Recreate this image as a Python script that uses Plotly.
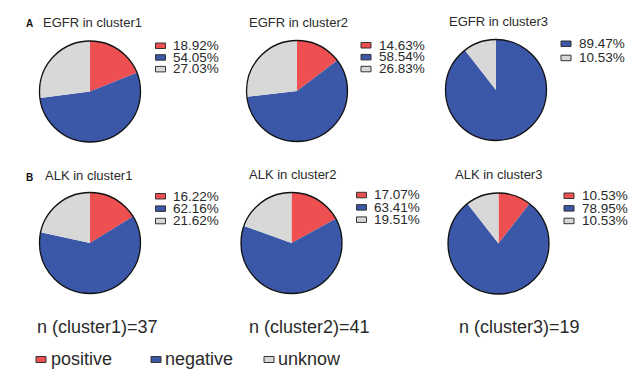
import plotly.graph_objects as go

W, H = 638, 379

# ---- data ----
categories = ["positive", "negative", "unknow"]
genes = ["EGFR", "ALK"]
clusters = ["cluster1", "cluster2", "cluster3"]
egfr_pct = [[18.92, 54.05, 27.03], [14.63, 58.54, 26.83], [0.0, 89.47, 10.53]]
alk_pct = [[16.22, 62.16, 21.62], [17.07, 63.41, 19.51], [10.53, 78.95, 10.53]]
cluster_n = [37, 41, 19]
panel_letters = ["A", "B"]
colors = ["#EE4F51", "#3A57A8", "#D8D8D8"]

# ---- layout constants (pixels) ----
pie_centers = [[(90, 91.5), (297, 91), (496, 90)], [(90, 243), (291.5, 243), (498.5, 243.5)]]
R = 50.5
title_pos = [[(40.5, 23), (246.5, 23), (446.5, 21.5)], [(43, 175.5), (246.5, 174.5), (453, 175)]]
letter_pos = [(24, 23.5), (24, 177)]
leg_rect_x = [[155.5, 361, 561], [155.5, 356.5, 564]]
leg_text_x = [[170.5, 376.5, 576.5], [170.5, 371.5, 579.5]]
leg_y0 = [[45.5, 45, 43.5], [196, 194.8, 195.5]]
leg_dy = [[11.7, 11.9, 14.2], [12.4, 12.3, 12.6]]
n_pos = [(35, 326.5), (246.5, 326.5), (456.5, 326.5)]
bot_rect_x = [36, 151, 264]
bot_text_x = [49, 163.5, 276]
bot_y = 359

FONT = "Liberation Sans, Arial, sans-serif"

def px(x):
    return x / W

def py(y):
    return 1 - y / H

fig = go.Figure()
annotations = []
shapes = []

data_rows = [egfr_pct, alk_pct]
for gi, gene in enumerate(genes):
    for ci, cl in enumerate(clusters):
        vals = data_rows[gi][ci]
        cx, cy = pie_centers[gi][ci]
        dom = dict(x=[px(cx - R), px(cx + R)], y=[py(cy + R), py(cy - R)])
        fig.add_trace(go.Pie(
            labels=categories, values=vals, sort=False, direction="clockwise",
            rotation=0, domain=dom, textinfo="none", showlegend=False,
            marker=dict(colors=colors, line=dict(width=0)),
            hovertemplate="%{label}: %{value:.2f}%<extra></extra>",
        ))
        # outline circle
        fig.add_trace(go.Pie(
            labels=["outline"], values=[1], sort=False, domain=dom, textinfo="none",
            showlegend=False, hoverinfo="skip",
            marker=dict(colors=["rgba(0,0,0,0)"], line=dict(color="#111111", width=1.3)),
        ))
        tx, ty = title_pos[gi][ci]
        annotations.append(dict(x=px(tx), y=py(ty), xref="paper", yref="paper",
                                xanchor="left", yanchor="middle", showarrow=False,
                                text=f"{gene} in {cl}",
                                font=dict(family=FONT, size=13, color="#2a2a2a")))
        row = 0
        for k, v in enumerate(vals):
            if v <= 0:
                continue
            yy = leg_y0[gi][ci] + row * leg_dy[gi][ci]
            rx = leg_rect_x[gi][ci]
            shapes.append(dict(type="rect", xref="paper", yref="paper",
                               x0=px(rx), x1=px(rx + 10), y0=py(yy + 3), y1=py(yy - 2.5),
                               fillcolor=colors[k], line=dict(color="#333333", width=1)))
            annotations.append(dict(x=px(leg_text_x[gi][ci]), y=py(yy), xref="paper", yref="paper",
                                    xanchor="left", yanchor="middle", showarrow=False,
                                    text=f"{v:.2f}%",
                                    font=dict(family=FONT, size=13.5, color="#2a2a2a")))
            row += 1
    lx, ly = letter_pos[gi]
    annotations.append(dict(x=px(lx), y=py(ly), xref="paper", yref="paper",
                            xanchor="left", yanchor="middle", showarrow=False,
                            text=f"<b>{panel_letters[gi]}</b>",
                            font=dict(family=FONT, size=10, color="#111111")))

for ci, cl in enumerate(clusters):
    nx, ny = n_pos[ci]
    annotations.append(dict(x=px(nx), y=py(ny), xref="paper", yref="paper",
                            xanchor="left", yanchor="middle", showarrow=False,
                            text=f"n ({cl})={cluster_n[ci]}",
                            font=dict(family=FONT, size=18, color="#2a2a2a")))

for k, cat in enumerate(categories):
    rx = bot_rect_x[k]
    shapes.append(dict(type="rect", xref="paper", yref="paper",
                       x0=px(rx), x1=px(rx + 10), y0=py(bot_y + 3.5), y1=py(bot_y - 2.5),
                       fillcolor=colors[k], line=dict(color="#333333", width=1)))
    annotations.append(dict(x=px(bot_text_x[k]), y=py(bot_y - 0.5), xref="paper", yref="paper",
                            xanchor="left", yanchor="middle", showarrow=False,
                            text=cat, font=dict(family=FONT, size=18, color="#2a2a2a")))

fig.update_layout(
    width=W, height=H, margin=dict(l=0, r=0, t=0, b=0),
    paper_bgcolor="white", plot_bgcolor="white",
    annotations=annotations, shapes=shapes, showlegend=False,
)

fig.write_html(
    "out.html",
    config={"displayModeBar": False},
    post_script="document.body.style.margin='0';document.body.style.overflow='hidden';",
)
